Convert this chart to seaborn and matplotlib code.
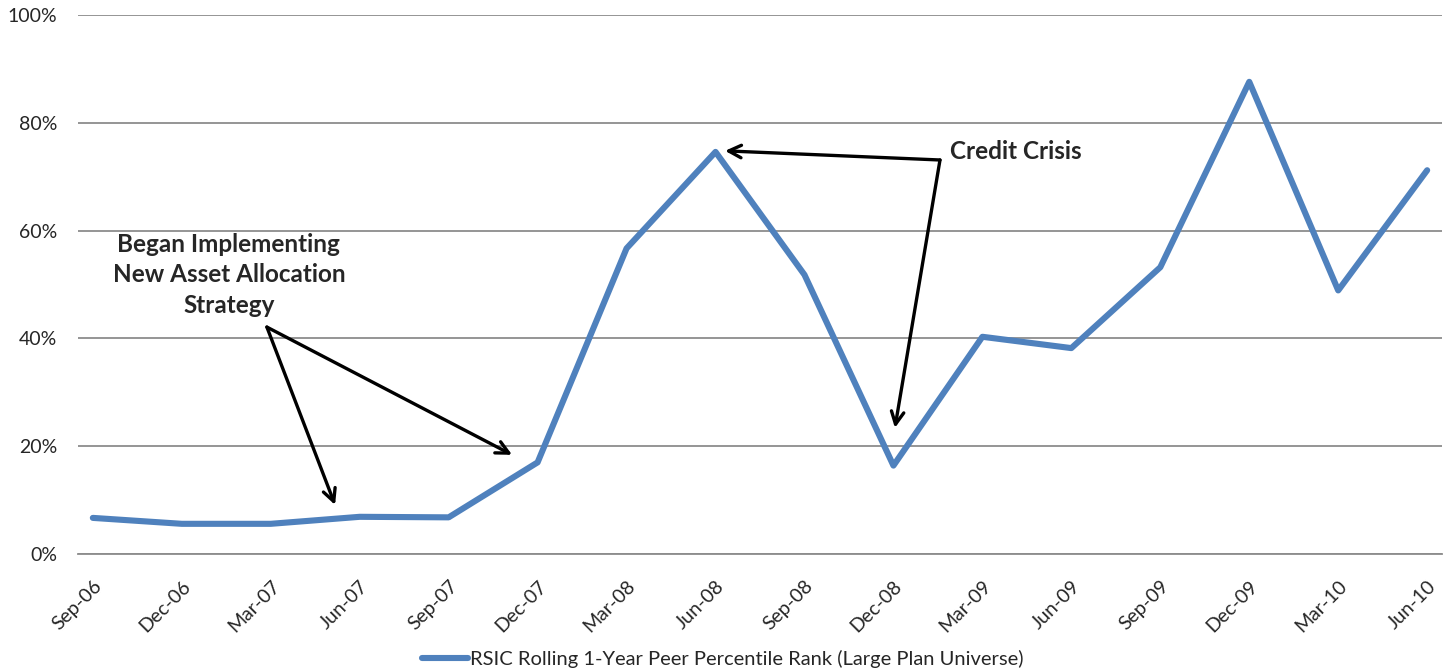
import numpy as np
import pandas as pd
import matplotlib
matplotlib.use("Agg")
import matplotlib.pyplot as plt
import seaborn as sns

# ---- data ----
quarter_labels = ["Sep-06", "Dec-06", "Mar-07", "Jun-07", "Sep-07", "Dec-07",
                  "Mar-08", "Jun-08", "Sep-08", "Dec-08", "Mar-09", "Jun-09",
                  "Sep-09", "Dec-09", "Mar-10", "Jun-10"]
percentile_rank = [6.7, 5.6, 5.6, 6.9, 6.8, 17.0,
                   56.7, 74.6, 51.8, 16.4, 40.3, 38.2,
                   53.2, 87.6, 48.9, 71.2]
series_name = "RSIC Rolling 1-Year Peer Percentile Rank (Large Plan Universe)"
y_ticks = [0, 20, 40, 60, 80, 100]

# months since Sep-06; each quarterly point sits in the middle of its month slot
month_index = np.arange(len(quarter_labels)) * 3
point_x = month_index + 0.5

df = pd.DataFrame({"month": point_x, "rank": percentile_rank})

sns.set_style("white")
plt.rcParams["font.family"] = ["Lato", "DejaVu Sans"]

W, H = 1450, 672
fig = plt.figure(figsize=(W / 100, H / 100), dpi=100)
ax = fig.add_axes([78 / W, 1 - 554 / H, (1442 - 78) / W, (554 - 15) / H])

sns.lineplot(data=df, x="month", y="rank", ax=ax, color="#4F81BD", lw=4.4,
             label=series_name, solid_joinstyle="round", solid_capstyle="round")

ax.set_xlim(0, 46)
ax.set_ylim(0, 100)
ax.set_xlabel("")
ax.set_ylabel("")

# y axis
ax.set_yticks(y_ticks)
ax.set_yticklabels([f"{v}%" for v in y_ticks], fontsize=14)
ax.tick_params(axis="y", length=0, pad=15)
ax.yaxis.grid(True, color="#8C8C8C", lw=1.3)
ax.set_axisbelow(True)

# x axis: tick marks at quarter boundaries, labels at point positions
ax.set_xticks(month_index)
ax.set_xticklabels([])
ax.tick_params(axis="x", which="major", length=6, width=1.3, color="#8C8C8C", direction="out")
ax.set_xticks(point_x, minor=True)
ax.set_xticklabels(quarter_labels, minor=True, rotation=45, ha="right",
                   rotation_mode="anchor", fontsize=14)
ax.tick_params(axis="x", which="minor", length=0, pad=17)

for s in ["left", "right", "top"]:
    ax.spines[s].set_visible(False)
ax.spines["bottom"].set_color("#8C8C8C")
ax.spines["bottom"].set_linewidth(1.3)

# ---- annotations ----
arrow_kw = dict(arrowstyle="->,head_length=0.9,head_width=0.45", color="black", lw=2.4,
                shrinkA=0, shrinkB=0)
ax.text(5.09, 51.8, "Began Implementing\nNew Asset Allocation\nStrategy", ha="center",
        va="center", fontsize=17.5, fontweight="bold", linespacing=1.38)
ax.annotate("", xy=(8.67, 9.1), xytext=(6.37, 42.1), arrowprops=arrow_kw)
ax.annotate("", xy=(14.64, 18.4), xytext=(6.37, 42.1), arrowprops=arrow_kw)

ax.text(29.41, 74.6, "Credit Crisis", ha="left", va="center", fontsize=17.5,
        fontweight="bold")
ax.annotate("", xy=(21.82, 74.8), xytext=(29.07, 73.1), arrowprops=arrow_kw)
ax.annotate("", xy=(27.55, 23.4), xytext=(29.07, 73.1), arrowprops=arrow_kw)

# ---- legend ----
leg = ax.legend(loc="center", bbox_to_anchor=(723 / W, 1 - 659 / H), bbox_transform=fig.transFigure,
                frameon=False, fontsize=14.5, handlelength=2.3, handletextpad=0.1)

fig.savefig("out.png", dpi=100)
